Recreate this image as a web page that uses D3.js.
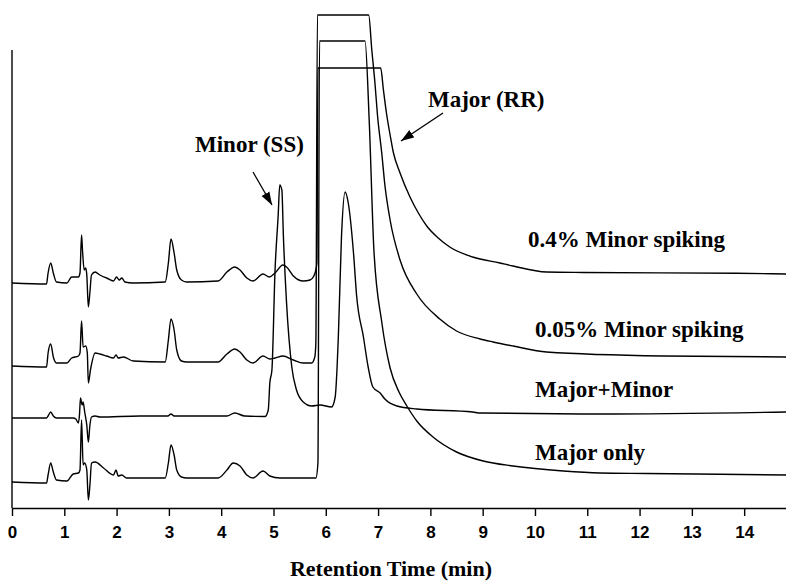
<!DOCTYPE html>
<head>
  <meta charset="utf-8">
  <title>Retention time chromatograms</title>
  <script src="https://cdn.jsdelivr.net/npm/d3@7"></script>
  <style>
    body { margin: 0; background: #fff; }
    .trace { fill: none; stroke: #000; stroke-width: 1.4; stroke-linejoin: round; }
    .lbl { font-family: 'Liberation Serif', 'Times New Roman', serif; font-weight: bold; fill: #000; }
    .tick text { font-family: 'Liberation Sans', Arial, sans-serif; font-weight: bold; font-size: 17px; fill: #000; }
  </style>
</head>
<body>
  <svg width="786" height="583"></svg>

  <script>
  // retention time (min), signal above the trace's own baseline (arbitrary units)
  var spike04 = [[0,0],[0.66,-1],[0.69,10],[0.74,20],[0.79,10],[0.85,1],[1.05,0],[1.14,6],[1.27,6],[1.30,10],[1.33,48],[1.35,31],[1.38,13],[1.41,15],[1.43,8],[1.46,-24],[1.49,-9],[1.52,8],[1.59,11],[1.68,8],[1.81,5],[1.94,2],[2.00,6],[2.05,3],[2.10,5],[2.16,1],[2.31,0],[2.93,1],[2.99,20],[3.04,44],[3.10,30],[3.15,13],[3.24,3],[3.34,1],[3.94,2],[4.11,11],[4.26,16],[4.36,13],[4.49,5],[4.61,2],[4.80,9],[4.92,6],[5.03,10],[5.18,18],[5.25,16],[5.38,7],[5.57,2],[5.70,3],[5.76,6],[5.81,13],[5.83,20],[5.85,215],[7.05,215],[7.10,194],[7.16,170],[7.23,148],[7.29,131],[7.42,110],[7.61,86],[7.77,70],[7.93,57],[8.15,45],[8.37,36],[8.81,26],[9.33,20],[9.58,17],[10.22,11],[10.92,10.5],[13.86,9.7],[14.80,9]];
  var spike005 = [[0,0],[0.66,-1],[0.69,13],[0.74,22],[0.79,9],[0.85,3],[1.05,3],[1.14,8],[1.27,10],[1.30,13],[1.33,45],[1.36,19],[1.41,20],[1.44,13],[1.46,-17],[1.50,-4],[1.59,13],[1.68,12],[1.81,10],[1.94,8],[1.99,11],[2.03,8],[2.13,9],[2.32,5],[2.93,4],[2.99,26],[3.04,47],[3.10,36],[3.15,16],[3.24,5],[3.34,4],[3.94,4],[4.11,12],[4.26,17],[4.36,14],[4.49,6],[4.61,3],[4.80,10],[4.93,7],[5.03,8],[5.18,10],[5.38,6],[5.57,3],[5.73,3],[5.79,9],[5.81,23],[5.84,351],[6.82,351],[6.88,316],[6.94,283],[6.99,250],[7.07,213],[7.13,181],[7.23,146],[7.42,106],[7.74,72],[8.18,47],[8.50,35],[8.95,27],[9.20,24],[9.58,20],[10.22,14],[12.45,10],[14.80,9]];
  var majorMinor = [[0,0],[0.66,0],[0.69,2],[0.74,6],[0.79,2],[0.85,0],[1.17,0],[1.22,-1],[1.27,-5],[1.29,3],[1.31,20],[1.34,13],[1.36,16],[1.39,6],[1.43,-7],[1.46,-24],[1.49,-7],[1.52,1],[1.59,2],[1.68,1],[2.45,2],[2.98,2],[3.04,4],[3.10,2],[4.11,2],[4.26,5],[4.45,2],[4.84,1.5],[4.90,8],[4.93,35],[4.97,48],[5.03,148],[5.09,203],[5.12,233],[5.16,228],[5.19,181],[5.25,115],[5.35,51],[5.44,28],[5.57,16],[5.73,12],[5.89,13],[6.11,11],[6.18,21],[6.24,81],[6.30,181],[6.37,226],[6.43,215],[6.53,165],[6.59,122],[6.72,81],[6.81,51],[6.90,31],[7.04,25],[7.13,19],[7.36,12],[7.74,9],[8.81,6],[8.95,5],[11.24,4],[14.80,6]];
  var majorOnly = [[0,0],[0.66,-1],[0.69,7],[0.74,19],[0.79,10],[0.85,2],[1.05,1],[1.17,8],[1.27,9],[1.30,12],[1.33,62],[1.36,17],[1.39,19],[1.43,12],[1.46,-18],[1.49,-3],[1.52,19],[1.59,20],[1.75,14],[1.94,7],[1.99,12],[2.03,6],[2.10,7],[2.19,4],[2.93,4],[2.99,19],[3.04,37],[3.10,27],[3.15,12],[3.24,5],[3.34,4],[3.94,4],[4.11,12],[4.23,19],[4.36,16],[4.49,7],[4.61,4],[4.80,11],[4.93,6],[5.12,4],[5.81,4],[5.85,19],[5.88,441],[6.75,441],[6.83,362],[6.92,232],[7.07,160],[7.23,114],[7.40,90],[7.55,76],[7.74,61],[8.05,45],[8.50,30],[9.01,21],[9.58,16],[10.54,11],[11.24,9],[12.14,8.5],[14.80,7]];

  var traces = [spike04, spike005, majorMinor, majorOnly];
  var offsets = [225, 142, 90, 26];   // vertical stacking of the traces
  var traceNames = ["0.4% Minor spiking", "0.05% Minor spiking", "Major+Minor", "Major only"];
  var tickValues = d3.range(0, 15);

  var svg = d3.select("svg");

  var x = d3.scaleLinear().domain([0, 14.8]).range([12, 786]);
  var y = d3.scaleLinear().domain([0, 458]).range([508, 50]);

  var line = d3.line()
      .x(function(d) { return x(d[0]); })
      .y(function(d) { return y(d[1]); })
      .curve(d3.curveMonotoneX);

  svg.append("g")
    .selectAll("path")
    .data(traces)
    .enter().append("path")
      .attr("class", "trace")
      .attr("d", function(d, i) {
        return line(d.map(function(p) { return [p[0], p[1] + offsets[i]]; }));
      });

  // axes
  var xAxis = svg.append("g")
      .attr("transform", "translate(0," + y(0) + ")")
      .call(d3.axisBottom(x).tickValues(tickValues).tickSize(8).tickSizeOuter(0).tickPadding(10));
  xAxis.selectAll("path, line").attr("stroke", "#000").attr("stroke-width", 1.4);

  svg.append("line")
      .attr("x1", x(0)).attr("x2", x(0))
      .attr("y1", y(0)).attr("y2", y(458))
      .attr("stroke", "#000").attr("stroke-width", 1.4);

  svg.append("text")
      .attr("class", "lbl")
      .attr("x", 391).attr("y", 576)
      .attr("text-anchor", "middle")
      .attr("font-size", 22)
      .text("Retention Time (min)");

  // trace names
  var namePos = [[528, 247], [535, 337], [535, 397], [535, 460]];
  svg.selectAll(".name")
    .data(traceNames)
    .enter().append("text")
      .attr("class", "lbl name")
      .attr("x", function(d, i) { return namePos[i][0]; })
      .attr("y", function(d, i) { return namePos[i][1]; })
      .attr("font-size", 23)
      .text(function(d) { return d; });

  // peak callouts
  svg.append("defs").append("marker")
      .attr("id", "head")
      .attr("markerUnits", "userSpaceOnUse")
      .attr("viewBox", "0 -5 14 10")
      .attr("refX", 13).attr("refY", 0)
      .attr("markerWidth", 14).attr("markerHeight", 10)
      .attr("orient", "auto")
    .append("path")
      .attr("d", "M0,-4.5L13,0L0,4.5Z")
      .attr("fill", "#000");

  var callouts = [
    {text: "Minor (SS)", tx: 195, ty: 152, from: [253, 172], to: [272, 205]},
    {text: "Major (RR)", tx: 428, ty: 107, from: [443, 113], to: [401, 141]}
  ];
  callouts.forEach(function(c) {
    svg.append("text").attr("class", "lbl")
      .attr("x", c.tx).attr("y", c.ty)
      .attr("font-size", 23)
      .text(c.text);
    svg.append("line")
      .attr("x1", c.from[0]).attr("y1", c.from[1])
      .attr("x2", c.to[0]).attr("y2", c.to[1])
      .attr("stroke", "#000").attr("stroke-width", 1.3)
      .attr("marker-end", "url(#head)");
  });
  </script>
</body>
